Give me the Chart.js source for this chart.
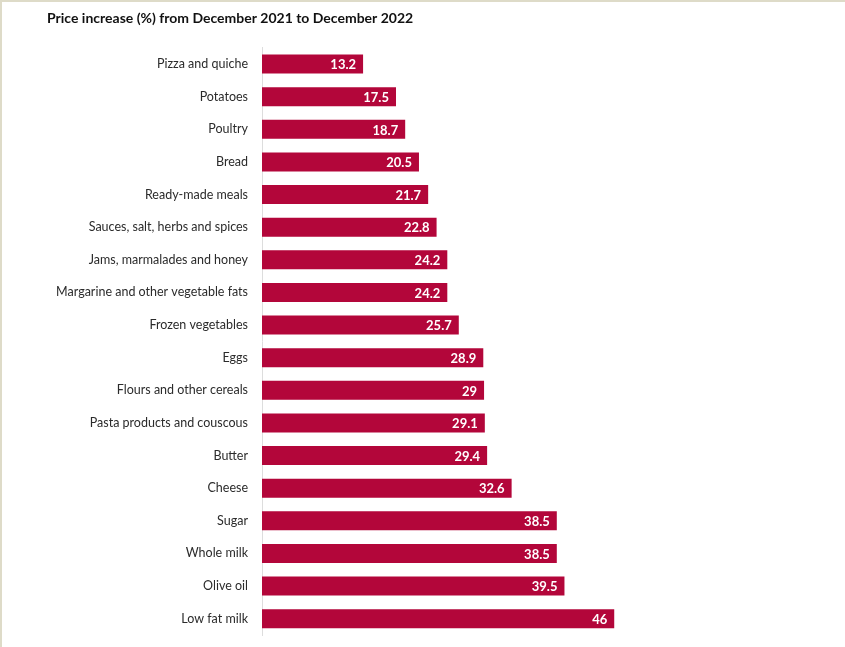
<!DOCTYPE html>
<html>
<head>
<meta charset="utf-8">
<script src="https://cdn.jsdelivr.net/npm/chart.js@4/dist/chart.umd.min.js"></script>
<style>
  html, body { margin: 0; padding: 0; background: #fff; }
  body { width: 845px; height: 647px; overflow: hidden; }
  #frame {
    position: absolute; left: 0; top: 0;
    width: 843px; height: 645px;
    border-top: 2px solid #dedbc8; border-left: 2px solid #dedbc8;
  }
  canvas { display: block; }
</style>
</head>
<body>
<div id="frame"><canvas id="chart" width="843" height="645"></canvas></div>
<script>
"use strict";

const title = 'Price increase (%) from December 2021 to December 2022';

const categories = [
  'Pizza and quiche', 'Potatoes', 'Poultry', 'Bread', 'Ready-made meals',
  'Sauces, salt, herbs and spices', 'Jams, marmalades and honey',
  'Margarine and other vegetable fats', 'Frozen vegetables', 'Eggs',
  'Flours and other cereals', 'Pasta products and couscous', 'Butter',
  'Cheese', 'Sugar', 'Whole milk', 'Olive oil', 'Low fat milk'
];

const increases = [
  13.2, 17.5, 18.7, 20.5, 21.7, 22.8, 24.2, 24.2, 25.7, 28.9,
  29, 29.1, 29.4, 32.6, 38.5, 38.5, 39.5, 46
];

const FONT = "Lato, 'Open Sans', sans-serif";

// white value inside the end of each bar
const barValues = {
  id: 'barValues',
  afterDatasetsDraw(chart) {
    const { ctx } = chart;
    const meta = chart.getDatasetMeta(0);
    ctx.save();
    ctx.font = `bold 13px ${FONT}`;
    ctx.fillStyle = '#ffffff';
    ctx.textAlign = 'right';
    ctx.textBaseline = 'middle';
    meta.data.forEach((bar, i) => {
      ctx.fillText(String(increases[i]), bar.x - 7, bar.y + 1);
    });
    ctx.restore();
  }
};

new Chart(document.getElementById('chart'), {
  type: 'bar',
  data: {
    labels: categories,
    datasets: [{
      data: increases,
      backgroundColor: '#b3063a',
      borderWidth: 0,
      barPercentage: 0.6,
      categoryPercentage: 0.97
    }]
  },
  options: {
    indexAxis: 'y',
    responsive: false,
    animation: false,
    layout: { padding: { left: 45, right: 47, top: 0, bottom: 12 } },
    plugins: {
      legend: { display: false },
      tooltip: { enabled: false },
      title: {
        display: true,
        text: title,
        align: 'start',
        color: '#111111',
        font: { family: FONT, size: 14, weight: 'bold', lineHeight: 1.2 },
        padding: { top: 8, bottom: 21 }
      }
    },
    scales: {
      x: {
        display: false,
        min: 0,
        max: 70
      },
      y: {
        afterFit(scale) {
          scale.width = 215;
          scale.paddingTop = 0;
          scale.paddingBottom = 0;
        },
        grid: { display: false, drawTicks: false },
        border: { display: true, color: '#dddddd', width: 1 },
        ticks: {
          color: '#2b2b2b',
          padding: 14,
          font: { family: FONT, size: 12.5 }
        }
      }
    }
  },
  plugins: [barValues]
});
</script>
</body>
</html>
